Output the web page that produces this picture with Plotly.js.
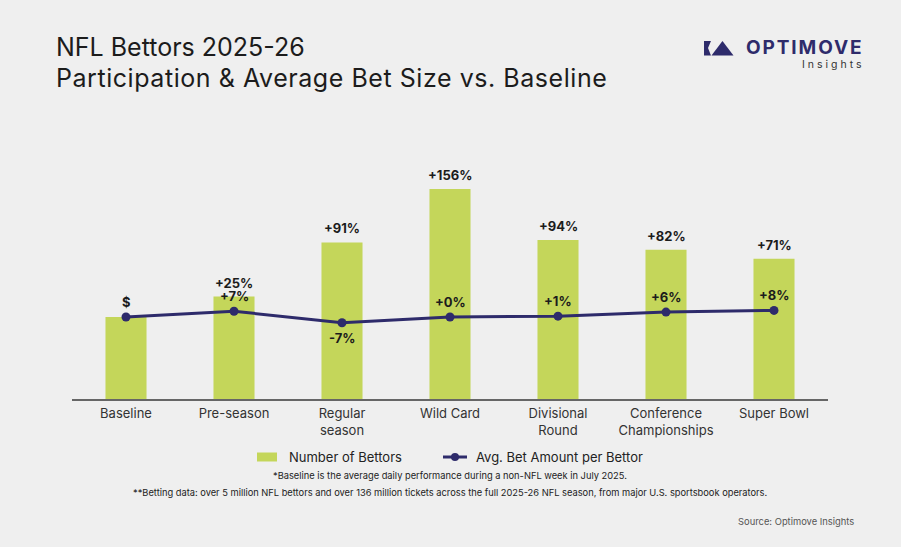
<!DOCTYPE html>
<html>
<head>
<meta charset="utf-8">
<script src="https://cdn.plot.ly/plotly-3.0.1.min.js"></script>
<style>
  html, body { margin: 0; padding: 0; background: #efefef; }
  #chart { width: 901px; height: 547px; }
</style>
</head>
<body>
<div id="chart"></div>
<script>
// Stages of the 2025-26 NFL season
const stages = ['Baseline', 'Pre-season', 'Regular<br>season', 'Wild Card',
                'Divisional<br>Round', 'Conference<br>Championships', 'Super Bowl'];
// Number of bettors, indexed to baseline = 100
const bettorsIndex = [100, 125, 191, 256, 194, 182, 171];
// Average bet amount per bettor, indexed to baseline = 100
const avgBetIndex = [100, 107, 93, 100, 101, 106, 108];
const seriesNames = ['Number of Bettors', 'Avg. Bet Amount per Bettor'];

const FONT = 'Inter, "Open Sans", sans-serif';
const INK = '#1c1c1c';
const NAVY = '#2e2b6b';
const GREEN = '#c4d65a';

// Plot area in pixels: x 72..828, y 153..399
const PLOT = { l: 72, r: 73, t: 153, b: 148, w: 756, h: 246 };
const py = yPix => (PLOT.t + PLOT.h - yPix) / PLOT.h;   // pixel y -> paper y
const pxx = xPix => (xPix - PLOT.l) / PLOT.w;           // pixel x -> paper x

function pct(v) {
  const d = v - 100;
  return (d >= 0 ? '+' : '-') + Math.abs(d) + '%';
}

const annotations = [];

// Percentage labels above each bar (the baseline bar has none)
bettorsIndex.forEach((v, i) => {
  if (i === 0) return;
  annotations.push({
    x: i, y: v, xref: 'x', yref: 'y', text: '<b>' + pct(v) + '</b>',
    showarrow: false, yanchor: 'bottom', yshift: 4,
    font: { family: FONT, size: 13, color: INK }
  });
});

// Labels for the average-bet line; '$' marks the baseline point
avgBetIndex.forEach((v, i) => {
  const below = v < 100;
  annotations.push({
    x: i, y: v, xref: 'x', yref: 'y',
    text: '<b>' + (i === 0 ? '$' : pct(v)) + '</b>',
    showarrow: false, yanchor: below ? 'top' : 'bottom',
    yshift: below ? -5 : 5,
    font: { family: FONT, size: 13, color: INK }
  });
});

// Two-line heading
annotations.push(
  { xref: 'paper', yref: 'paper', x: pxx(54), y: py(47.5), showarrow: false,
    xanchor: 'left', yanchor: 'middle',
    text: 'NFL Bettors 2025-26',
    font: { family: FONT, size: 25, color: INK } },
  { xref: 'paper', yref: 'paper', x: pxx(54), y: py(78), showarrow: false,
    xanchor: 'left', yanchor: 'middle',
    text: '<span style="letter-spacing:0.55px">Participation & Average Bet Size vs. Baseline</span>',
    font: { family: FONT, size: 25, color: INK } }
);

// Footnotes and source
annotations.push(
  { xref: 'paper', yref: 'paper', x: pxx(450), y: py(475), showarrow: false,
    text: '*Baseline is the average daily performance during a non-NFL week in July 2025.',
    font: { family: FONT, size: 9.3, color: '#222' }, xanchor: 'center', yanchor: 'middle' },
  { xref: 'paper', yref: 'paper', x: pxx(450), y: py(492), showarrow: false,
    text: '**Betting data: over 5 million NFL bettors and over 136 million tickets across the full 2025-26 NFL season, from major U.S. sportsbook operators.',
    font: { family: FONT, size: 9.3, color: '#222' }, xanchor: 'center', yanchor: 'middle' },
  { xref: 'paper', yref: 'paper', x: pxx(856), y: py(521), showarrow: false,
    text: 'Source: Optimove Insights',
    font: { family: FONT, size: 9.4, color: '#555' }, xanchor: 'right', yanchor: 'middle' }
);

// Wordmark
annotations.push(
  { xref: 'paper', yref: 'paper', x: pxx(744), y: py(47.5), showarrow: false,
    text: '<b><span style="letter-spacing:1.9px">OPTIMOVE</span></b>',
    font: { family: FONT, size: 19, color: NAVY }, xanchor: 'left', yanchor: 'middle' },
  { xref: 'paper', yref: 'paper', x: pxx(867), y: py(64.5), showarrow: false,
    text: '<span style="letter-spacing:3px">Insights</span>',
    font: { family: FONT, size: 10.5, color: '#333' }, xanchor: 'right', yanchor: 'middle' }
);

// Legend entries, laid out by hand
const LEG_Y = 457;
annotations.push(
  { xref: 'paper', yref: 'paper', x: pxx(287), y: py(LEG_Y), showarrow: false,
    text: seriesNames[0], xanchor: 'left', yanchor: 'middle',
    font: { family: FONT, size: 13, color: '#222' } },
  { xref: 'paper', yref: 'paper', x: pxx(474), y: py(LEG_Y), showarrow: false,
    text: seriesNames[1], xanchor: 'left', yanchor: 'middle',
    font: { family: FONT, size: 13, color: '#222' } }
);

function P(x, y) { return pxx(x).toFixed(4) + ',' + py(y).toFixed(4); }
const shapes = [
  // logo mark
  { type: 'path', xref: 'paper', yref: 'paper', fillcolor: NAVY, line: { width: 0 },
    path: 'M' + P(704, 41) + ' L' + P(711, 41) + ' L' + P(708, 48) + ' L' + P(711, 55.5) +
          ' L' + P(704, 55.5) + ' Z' },
  { type: 'path', xref: 'paper', yref: 'paper', fillcolor: NAVY, line: { width: 0 },
    path: 'M' + P(711.5, 55.5) + ' L' + P(722.5, 41) + ' L' + P(733.5, 55.5) + ' Z' },
  // legend swatches
  { type: 'rect', xref: 'paper', yref: 'paper', fillcolor: GREEN, line: { width: 0 },
    x0: pxx(257), x1: pxx(277), y0: py(LEG_Y - 4.5), y1: py(LEG_Y + 4.5) },
  { type: 'line', xref: 'paper', yref: 'paper', line: { color: NAVY, width: 3 },
    x0: pxx(443), x1: pxx(467), y0: py(LEG_Y), y1: py(LEG_Y) },
  { type: 'circle', xref: 'paper', yref: 'paper', fillcolor: NAVY, line: { width: 0 },
    x0: pxx(451), x1: pxx(459), y0: py(LEG_Y - 4), y1: py(LEG_Y + 4) }
];

const idx = stages.map((_, i) => i);
const traces = [
  {
    type: 'bar', name: seriesNames[0], x: idx, y: bettorsIndex,
    marker: { color: GREEN }, width: 0.38, hoverinfo: 'skip'
  },
  {
    type: 'scatter', mode: 'lines+markers', name: seriesNames[1], x: idx, y: avgBetIndex,
    line: { color: NAVY, width: 3 }, marker: { color: NAVY, size: 9 }, hoverinfo: 'skip'
  }
];

const layout = {
  width: 901, height: 547,
  paper_bgcolor: '#efefef', plot_bgcolor: '#efefef',
  margin: { l: PLOT.l, r: PLOT.r, t: PLOT.t, b: PLOT.b },
  font: { family: FONT, color: '#333' },
  showlegend: false,
  xaxis: {
    range: [-0.5, 6.5], tickvals: idx, ticktext: stages,
    showline: true, linecolor: '#666', linewidth: 1.5,
    showgrid: false, zeroline: false, ticks: '', ticklabelstandoff: 2,
    tickfont: { family: FONT, size: 13, color: '#333' }, fixedrange: true
  },
  yaxis: {
    range: [0, 300], visible: false, showgrid: false, zeroline: false, fixedrange: true
  },
  annotations: annotations,
  shapes: shapes
};

Plotly.newPlot('chart', traces, layout, { displayModeBar: false, staticPlot: true });
</script>
</body>
</html>
